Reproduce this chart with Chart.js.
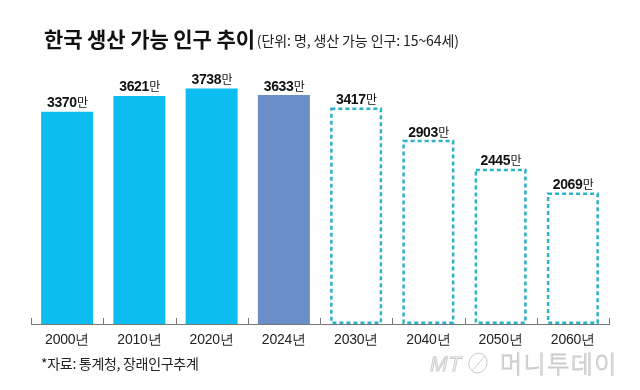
<!DOCTYPE html>
<html>
<head>
<meta charset="utf-8">
<script src="https://cdn.jsdelivr.net/npm/chart.js@4.4.1/dist/chart.umd.min.js"></script>
<style>
  html, body { margin: 0; padding: 0; background: #fff; }
  canvas { display: block; }
</style>
</head>
<body>
<canvas id="chart" width="640" height="390"></canvas>
<script>
// ---- data (만 명) ----
const years      = ['2000년', '2010년', '2020년', '2024년', '2030년', '2040년', '2050년', '2060년'];
const population = [3370, 3621, 3738, 3633, 3417, 2903, 2445, 2069];
const projected  = [false, false, false, false, true, true, true, true];
const latestYear = '2024년';
const unitSuffix = '만';
const yMax       = 4000;

const titleText    = '한국 생산 가능 인구 추이';
const subtitleText = '(단위: 명, 생산 가능 인구: 15~64세)';
const sourceText   = '*자료: 통계청, 장래인구추계';

const CYAN   = '#0bbdf0';
const SLATE  = '#6a8ec8';
const DASHED = '#2bb1c8';
const LATIN  = '"Liberation Sans", Arial, sans-serif';
const KR     = '"Noto Sans CJK KR", "Noto Sans", sans-serif';

const barColors = years.map((y, i) =>
  projected[i] ? 'rgba(0,0,0,0)' : (y === latestYear ? SLATE : CYAN));

// ---- extra drawing: dashed projections, value labels, title, ticks ----
const decor = {
  id: 'decor',
  beforeDraw(chart) {
    chart.ctx.letterSpacing = '-0.2px';
  },
  afterDatasetsDraw(chart) {
    const ctx  = chart.ctx;
    const meta = chart.getDatasetMeta(0);
    meta.data.forEach((bar, i) => {
      const p = bar.getProps(['x', 'y', 'base', 'width'], true);
      if (projected[i]) {
        ctx.save();
        ctx.strokeStyle = DASHED;
        ctx.lineWidth   = 2.5;
        ctx.setLineDash([4, 3]);
        ctx.strokeRect(p.x - p.width / 2 + 1.25, p.y, p.width - 2.5, p.base - p.y - 1.25);
        ctx.restore();
      }
      // value label: bold number + 만
      ctx.save();
      ctx.letterSpacing = '-0.4px';
      ctx.fillStyle = '#111';
      ctx.textBaseline = 'alphabetic';
      const num = String(population[i]);
      ctx.font = 'bold 14px ' + LATIN;
      const wNum = ctx.measureText(num).width;
      ctx.font = '12px ' + KR;
      const wSuf = ctx.measureText(unitSuffix).width;
      const x0 = p.x - (wNum + wSuf) / 2;
      const yb = p.y - 4.5;
      ctx.font = 'bold 14px ' + LATIN;
      ctx.textAlign = 'left';
      ctx.fillText(num, x0, yb);
      ctx.font = '12px ' + KR;
      ctx.fillText(unitSuffix, x0 + wNum + 0.5, yb);
      ctx.restore();
    });
  },
  afterDraw(chart) {
    const ctx = chart.ctx;
    const xs  = chart.scales.x;
    const area = chart.chartArea;

    // small upward ticks at category boundaries
    const half = (xs.getPixelForValue(1) - xs.getPixelForValue(0)) / 2;
    ctx.save();
    ctx.strokeStyle = '#777';
    ctx.lineWidth = 1;
    for (let i = 0; i <= years.length; i++) {
      const x = Math.round(xs.getPixelForValue(0) - half + i * half * 2) + 0.5;
      ctx.beginPath();
      ctx.moveTo(x, area.bottom);
      ctx.lineTo(x, area.bottom - 6);
      ctx.stroke();
    }
    ctx.restore();

    // title + subtitle
    ctx.save();
    ctx.textBaseline = 'alphabetic';
    ctx.textAlign = 'left';
    ctx.fillStyle = '#111';
    ctx.letterSpacing = '-0.1px';
    ctx.font = 'bold 21px ' + KR;
    ctx.fillText(titleText, 44, 47);
    const tw = ctx.measureText(titleText).width;
    ctx.letterSpacing = '-0.1px';
    ctx.font = '14px ' + KR;
    ctx.fillStyle = '#222';
    ctx.fillText(subtitleText, 44 + tw + 2, 46);

    // source
    ctx.letterSpacing = '-0.3px';
    ctx.font = '14px ' + KR;
    ctx.fillStyle = '#222';
    ctx.fillText(sourceText, 41, 369);

    // watermark
    ctx.strokeStyle = '#cbcbcb';
    ctx.lineWidth = 1;
    ctx.letterSpacing = '1px';
    ctx.font = 'italic 21px ' + LATIN;
    ctx.strokeText('MT', 430, 371);
    ctx.beginPath();
    ctx.ellipse(478, 363, 9, 10, 0.4, 0, Math.PI * 2);
    ctx.stroke();
    ctx.beginPath();
    ctx.moveTo(472, 371);
    ctx.lineTo(485, 356);
    ctx.stroke();
    ctx.letterSpacing = '1.5px';
    ctx.font = '300 24px ' + KR;
    ctx.strokeText('머니투데이', 500, 373);
    ctx.restore();
  }
};

new Chart(document.getElementById('chart'), {
  type: 'bar',
  data: {
    labels: years,
    datasets: [{
      data: population,
      backgroundColor: barColors,
      borderWidth: 0,
      categoryPercentage: 0.8,
      barPercentage: 0.9,
    }],
  },
  options: {
    responsive: false,
    animation: false,
    events: [],
    layout: { padding: { top: 72, left: 31, right: 31, bottom: 0 } },
    plugins: { legend: { display: false }, tooltip: { enabled: false } },
    scales: {
      x: {
        grid: { display: false, drawTicks: false },
        border: { display: true, color: '#777', width: 1 },
        ticks: { color: '#222', font: { size: 14, family: LATIN }, padding: 8 },
        afterFit: s => { s.height = 66; },
      },
      y: {
        display: false,
        min: 0,
        max: yMax,
      },
    },
  },
  plugins: [decor],
});
</script>
</body>
</html>
